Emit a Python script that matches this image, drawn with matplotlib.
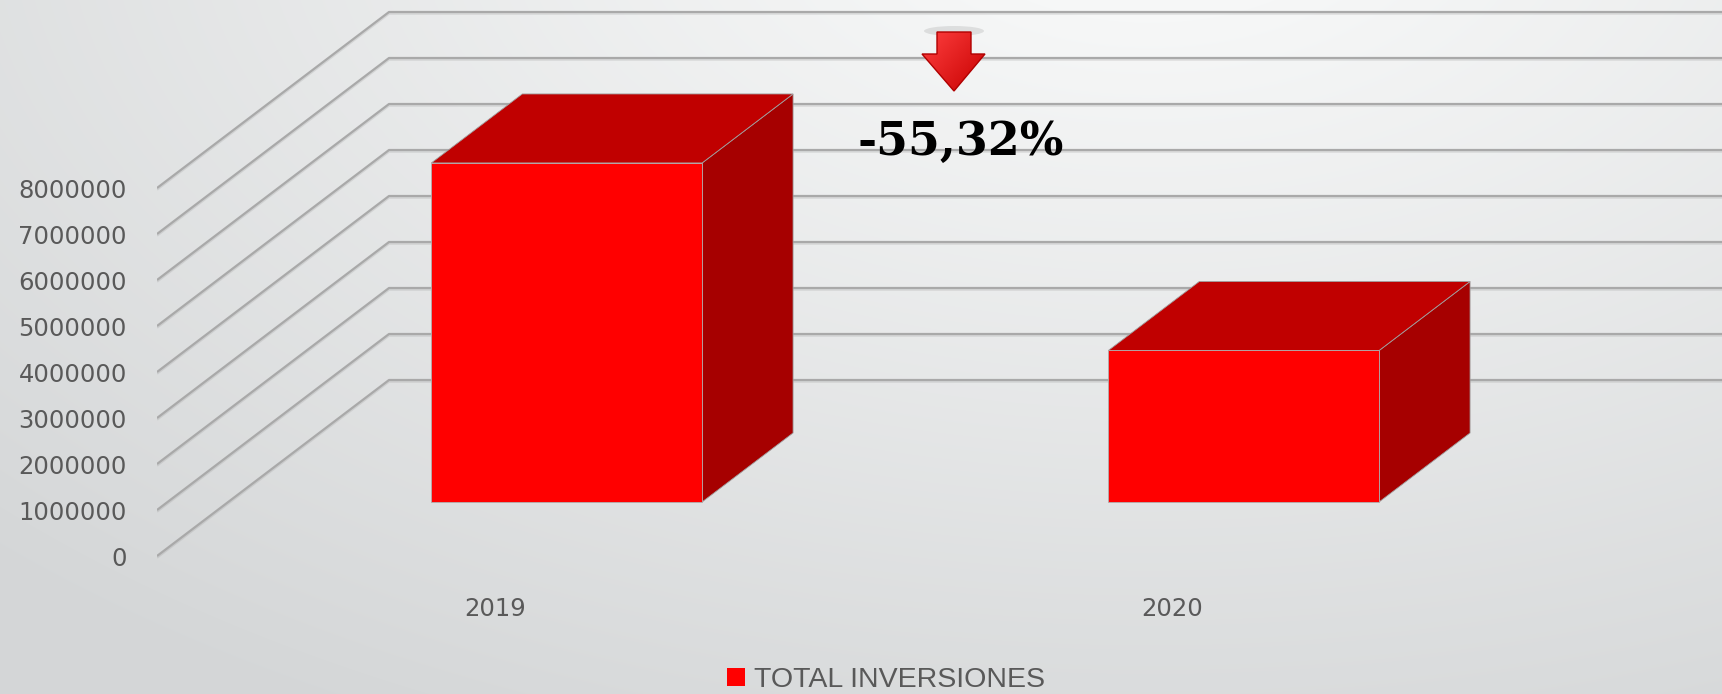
import numpy as np
import matplotlib
matplotlib.use("Agg")
import matplotlib.pyplot as plt
from matplotlib.patches import Polygon, Patch, Ellipse
import matplotlib.patheffects as pe

# ---------------- data ----------------
categories = ["2019", "2020"]
values = [7370000, 3293000]
series_name = "TOTAL INVERSIONES"
y_ticks = [0, 1000000, 2000000, 3000000, 4000000, 5000000, 6000000, 7000000, 8000000]
y_tick_labels = [str(t) for t in y_ticks]

change_pct = (values[1] / values[0] - 1) * 100
change_label = f"{change_pct:.2f}%".replace(".", ",")

# ---------------- layout ----------------
W, H = 1722, 694
fig = plt.figure(figsize=(W / 100, H / 100), dpi=100)

# background gradient
bg = fig.add_axes([0, 0, 1, 1], zorder=-10)
bg.axis("off")
yy, xx = np.mgrid[0:H, 0:W]
d = np.sqrt(((xx - 1150) / 1400.0) ** 2 + ((yy + 100) / 800.0) ** 2)
t = np.clip((d - 0.15) / 1.0, 0, 1)[..., None]
c_top = np.array([0.965, 0.969, 0.969])
c_bot = np.array([0.835, 0.843, 0.847])
img = c_top + (c_bot - c_top) * t
bg.imshow(img, extent=[0, 1, 0, 1], aspect="auto", origin="upper")
bg.set_xlim(0, 1)
bg.set_ylim(0, 1)

left_px = 157
ax = fig.add_axes([left_px / W, 0, 1 - left_px / W, 1])
ax.patch.set_alpha(0)
px_per_cat = 677.0
px_per_val = 46.0 / 1e6
x_front0 = 495.5
xmin, xmax = -0.5, (W - x_front0) / px_per_cat
ax.set_xlim(xmin, xmax)
ax.set_ylim((556 - H) / px_per_val, 556 / px_per_val)
for s in ax.spines.values():
    s.set_visible(False)

# depth (oblique projection) in data units
DX = 232 / px_per_cat
DY = 176 / px_per_val
f0, f1 = 0.307, 0.699
bw = 0.4

# gridlines (left wall + back wall)
for tv in y_ticks:
    ax.plot([xmin, xmin + DX, xmax], [tv, tv + DY, tv + DY], color="#a9a9a9", lw=1.6,
            zorder=1, solid_capstyle="butt",
            path_effects=[pe.SimpleLineShadow(offset=(0, -1.2), shadow_color="#999999", alpha=0.25),
                          pe.Normal()])

# bars
for i, v in enumerate(values):
    xl = i - bw / 2
    xr = i + bw / 2
    front = [(xl + f0 * DX, f0 * DY), (xr + f0 * DX, f0 * DY),
             (xr + f0 * DX, v + f0 * DY), (xl + f0 * DX, v + f0 * DY)]
    top = [(xl + f0 * DX, v + f0 * DY), (xr + f0 * DX, v + f0 * DY),
           (xr + f1 * DX, v + f1 * DY), (xl + f1 * DX, v + f1 * DY)]
    side = [(xr + f0 * DX, f0 * DY), (xr + f1 * DX, f1 * DY),
            (xr + f1 * DX, v + f1 * DY), (xr + f0 * DX, v + f0 * DY)]
    ax.add_patch(Polygon(side, closed=True, facecolor="#a60000", edgecolor="#a0a0a0",
                         lw=0.6, zorder=3))
    ax.add_patch(Polygon(top, closed=True, facecolor="#c00000", edgecolor="#a0a0a0",
                         lw=0.6, zorder=3))
    ax.add_patch(Polygon(front, closed=True, facecolor="#ff0000", edgecolor="#b0b0b0",
                         lw=0.6, zorder=4))

# axes ticks
ax.set_yticks(y_ticks)
ax.set_yticklabels(y_tick_labels)
ax.tick_params(axis="y", length=0, pad=21.6, labelsize=17.5, labelcolor="#595959")
ax.set_xticks([])
for i, c in enumerate(categories):
    ax.text(i, (556 - 616) / px_per_val, c, ha="center", va="baseline",
            fontsize=17.5, color="#595959")

# legend
leg_fs = 20.5
leg = fig.legend(handles=[Patch(facecolor="#ff0000", edgecolor="none", label=series_name)],
                 loc="lower center", bbox_to_anchor=(886 / W, 1 / H),
                 frameon=False, handlelength=0.63, handleheight=0.63,
                 handletextpad=0.32, borderpad=0, borderaxespad=0,
                 prop={"family": "Liberation Sans", "size": leg_fs})
for txt in leg.get_texts():
    txt.set_color("#595959")

# arrow annotation
def fp(x, y):
    return (x / W, 1 - y / H)

arrow_pts = [fp(937, 32), fp(971, 32), fp(971, 54), fp(985, 54), fp(954, 91),
             fp(922, 54), fp(937, 54)]
fig.add_artist(Ellipse(fp(954, 31), 60 / W, 10 / H, transform=fig.transFigure,
                       facecolor="#9a9a9a", alpha=0.25, edgecolor="none"))
arrow = Polygon(arrow_pts, closed=True, transform=fig.transFigure,
                facecolor="none", edgecolor="#b00000", lw=1.0, zorder=20)
fig.add_artist(arrow)
gax = fig.add_axes([0, 0, 1, 1], zorder=15)
gax.axis("off")
gax.set_xlim(0, 1)
gax.set_ylim(0, 1)
gy, gx = np.mgrid[0:100, 0:100] / 99.0
g = np.clip(0.55 * gx + 0.45 * gy, 0, 1)[..., None]
c1 = np.array([1.0, 0.25, 0.25])
c2 = np.array([0.78, 0.0, 0.0])
gimg = c1 + (c2 - c1) * g
x0, yb = fp(922, 91)
x1, yt = fp(985, 32)
im = gax.imshow(gimg, extent=[x0, x1, yb, yt], aspect="auto", origin="upper")
clip = Polygon(arrow_pts, closed=True, transform=gax.transAxes)
im.set_clip_path(clip)

fig.text(961 / W, 1 - 155 / H, change_label, ha="center", va="baseline",
         fontsize=33, fontweight="bold", family="DejaVu Serif", color="#000000", zorder=20)

fig.savefig("out.png", dpi=100)
